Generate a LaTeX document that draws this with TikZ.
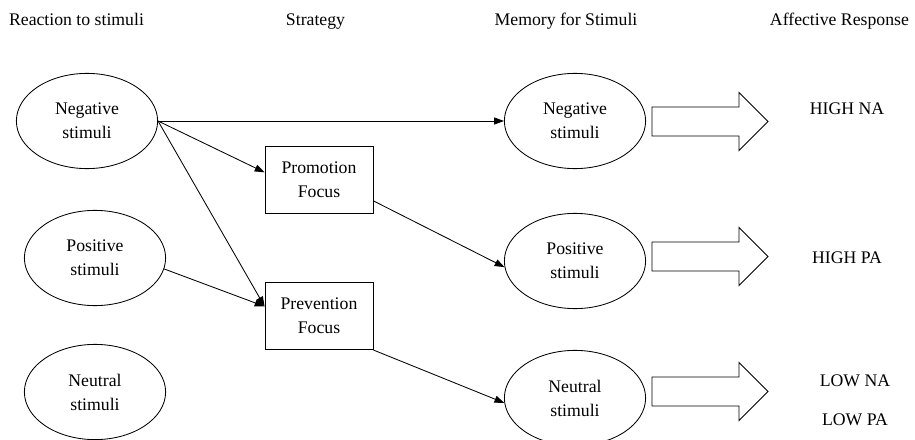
\documentclass[tikz,border=0pt]{standalone}
\usepackage{fontspec}
\setmainfont{Liberation Serif}
\usetikzlibrary{shapes.geometric,arrows.meta}
\tikzset{
  stim/.style={ellipse,draw,minimum width=3.53cm,minimum height=2.38cm,inner sep=0pt,align=center},
  focusbox/.style={rectangle,draw,minimum width=2.7cm,minimum height=1.68cm,inner sep=0pt,align=center},
  colhead/.style={anchor=base},
  affect/.style={anchor=base},
  lnk/.style={-{Triangle[length=7pt,width=5pt]}}
}
\begin{document}
\begin{tikzpicture}[x=0.025cm,y=-0.025cm,line width=0.6pt,font=\fontsize{12.6}{17}\selectfont]
    \useasboundingbox (0,0) rectangle (915,440);
    % column heads
    \node[colhead] (hreact) at (76.5,26) {Reaction to stimuli};
    \node[colhead] (hstrat) at (315.5,26) {Strategy};
    \node[colhead] (hmem) at (566,26) {Memory for Stimuli};
    \node[colhead,anchor=base east] (haff) at (914,26) {Affective Response};
    % reaction
    \node[stim] (neg1) at (87,121) {Negative\\stimuli};
    \node[stim] (pos1) at (95,258) {Positive\\stimuli};
    \node[stim] (neu1) at (95,392) {Neutral\\stimuli};
    % strategy
    \node[focusbox] (prom) at (319,180) {Promotion\\Focus};
    \node[focusbox] (prev) at (319,316) {Prevention\\Focus};
    % memory
    \node[stim] (neg2) at (575,121) {Negative\\stimuli};
    \node[stim] (pos2) at (575,261) {Positive\\stimuli};
    \node[stim] (neu2) at (575,398) {Neutral\\stimuli};
    % links
    \draw[lnk] (neg1.east) -- (neg2.west);
    \draw[lnk] (neg1.east) -- (prom.172);
    \draw[lnk] (neg1.east) -- (prev.170);
    \draw[lnk] (pos1.-9) -- (prev.170);
    \draw[lnk] (prom.-21) -- (pos2.185);
    \draw[lnk] (prev.south east) -- (neu2.184);
    % block arrows
    \foreach \y in {121.5,256.5,391.5}
      \draw (652,\y-14.5) -- (739,\y-14.5) -- (739,\y-29) -- (768,\y)
        -- (739,\y+29) -- (739,\y+14.5) -- (652,\y+14.5) -- cycle;
    % affective response
    \node[affect] (hna) at (847,115) {HIGH NA};
    \node[affect] (hpa) at (847,263) {HIGH PA};
    \node[affect] (lna) at (855,386) {LOW NA};
    \node[affect] (lpa) at (855,425) {LOW PA};
\end{tikzpicture}
\end{document}
